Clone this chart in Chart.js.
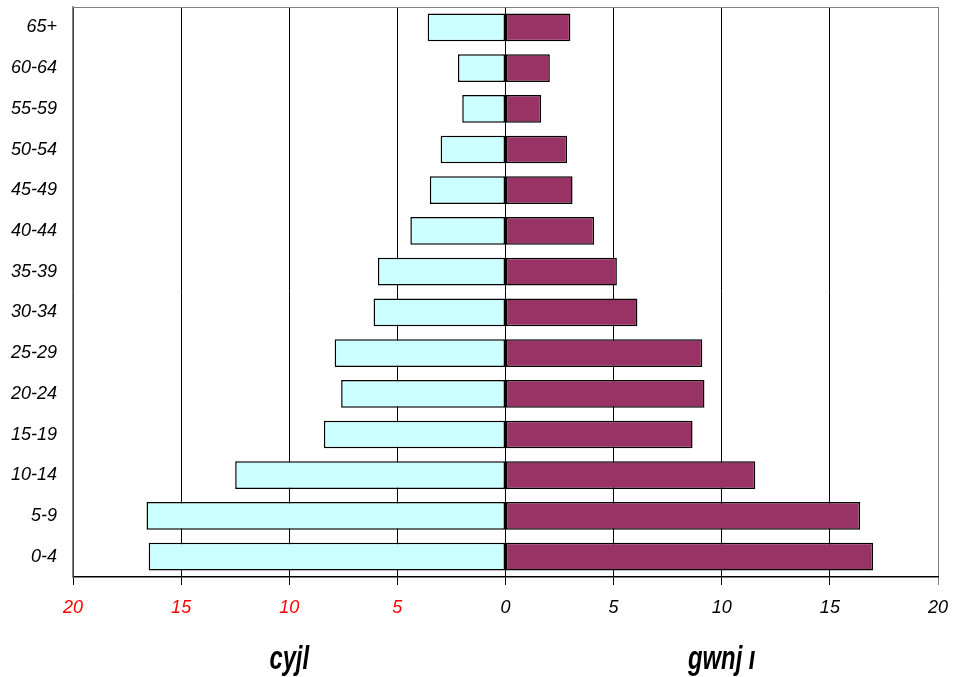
<!DOCTYPE html>
<html>
<head>
<meta charset="utf-8">
<script src="https://cdn.jsdelivr.net/npm/chart.js@4/dist/chart.umd.min.js"></script>
<style>
  html, body { margin: 0; padding: 0; background: #fff; overflow: hidden; }
  canvas { display: block; }
</style>
</head>
<body>
<canvas id="pyramid" width="958" height="677"></canvas>
<script>
// age groups, top to bottom
var ageGroups = ["65+", "60-64", "55-59", "50-54", "45-49", "40-44", "35-39",
                 "30-34", "25-29", "20-24", "15-19", "10-14", "5-9", "0-4"];
// left side (drawn to the left of zero)
var leftValues = [3.6, 2.2, 2.0, 3.0, 3.5, 4.4, 5.9, 6.1, 7.9, 7.6, 8.4, 12.5, 16.6, 16.5];
// right side
var rightValues = [3.0, 2.05, 1.65, 2.85, 3.1, 4.1, 5.15, 6.1, 9.1, 9.2, 8.65, 11.55, 16.4, 17.0];
var xTicks = [-20, -15, -10, -5, 0, 5, 10, 15, 20];
var sideLabels = [{ at: -10, text: "cyjl" }, { at: 10, text: "gwnj ı" }];

var narrow = "'Liberation Sans Narrow', 'Liberation Sans', Arial, sans-serif";

var sideLabelPlugin = {
  id: 'sideLabels',
  afterDraw: function(chart) {
    var ctx = chart.ctx;
    var area = chart.chartArea;
    var xs = chart.scales.x;
    ctx.save();
    // top border of plot area
    ctx.strokeStyle = '#808080';
    ctx.lineWidth = 1;
    ctx.beginPath();
    ctx.moveTo(area.left, area.top + 0.5);
    ctx.lineTo(area.right, area.top + 0.5);
    ctx.stroke();
    ctx.fillStyle = '#000';
    ctx.font = "bold italic 34px " + narrow;
    ctx.textAlign = 'center';
    ctx.textBaseline = 'middle';
    sideLabels.forEach(function(l) {
      var px = xs.getPixelForValue(l.at);
      ctx.save();
      ctx.translate(px, 660);
      ctx.scale(0.7, 1);
      ctx.fillText(l.text, 0, 0);
      ctx.restore();
    });
    ctx.restore();
  }
};

var ctx = document.getElementById('pyramid').getContext('2d');
var chart = new Chart(ctx, {
  type: 'bar',
  data: {
    labels: ageGroups,
    datasets: [{
      label: 'left',
      data: leftValues.map(function(v) { return -v; }),
      backgroundColor: '#CCFFFF',
      borderColor: '#000',
      borderWidth: 1.5,
      borderSkipped: false
    }, {
      label: 'right',
      data: rightValues,
      backgroundColor: '#993366',
      borderColor: '#000',
      borderWidth: 1.5,
      borderSkipped: false
    }]
  },
  options: {
    indexAxis: 'y',
    responsive: false,
    animation: false,
    devicePixelRatio: 1,
    layout: { padding: { top: 7, right: 20, left: 0, bottom: 0 } },
    plugins: { legend: { display: false }, tooltip: { enabled: false } },
    datasets: { bar: { categoryPercentage: 0.68, barPercentage: 1 } },
    scales: {
      x: {
        stacked: true,
        min: -20,
        max: 20,
        afterBuildTicks: function(scale) {
          scale.ticks = xTicks.map(function(v) { return { value: v }; });
        },
        afterFit: function(scale) {
          scale.height = 100;
          scale.paddingLeft = 0;
          scale.paddingRight = 0;
        },
        grid: {
          color: function(c) { return c.tick && c.tick.value === 20 ? '#808080' : '#000'; },
          lineWidth: 1,
          tickLength: 8,
          drawOnChartArea: true
        },
        border: { color: '#000', width: 1.5 },
        ticks: {
          padding: 12,
          maxRotation: 0,
          font: { family: narrow, size: 18, style: 'italic' },
          color: function(c) { return c.tick && c.tick.value < 0 ? '#FF0000' : '#000'; },
          callback: function(v) { return Math.abs(v); }
        }
      },
      y: {
        stacked: true,
        afterFit: function(scale) {
          scale.width = 73;
          scale.paddingTop = 0;
          scale.paddingBottom = 0;
        },
        grid: { display: false },
        border: { color: '#808080', width: 1.5 },
        ticks: {
          padding: 8,
          color: '#000',
          font: { family: "'Liberation Sans', Arial, sans-serif", size: 18, style: 'italic' }
        }
      }
    }
  },
  plugins: [sideLabelPlugin]
});
</script>
</body>
</html>
